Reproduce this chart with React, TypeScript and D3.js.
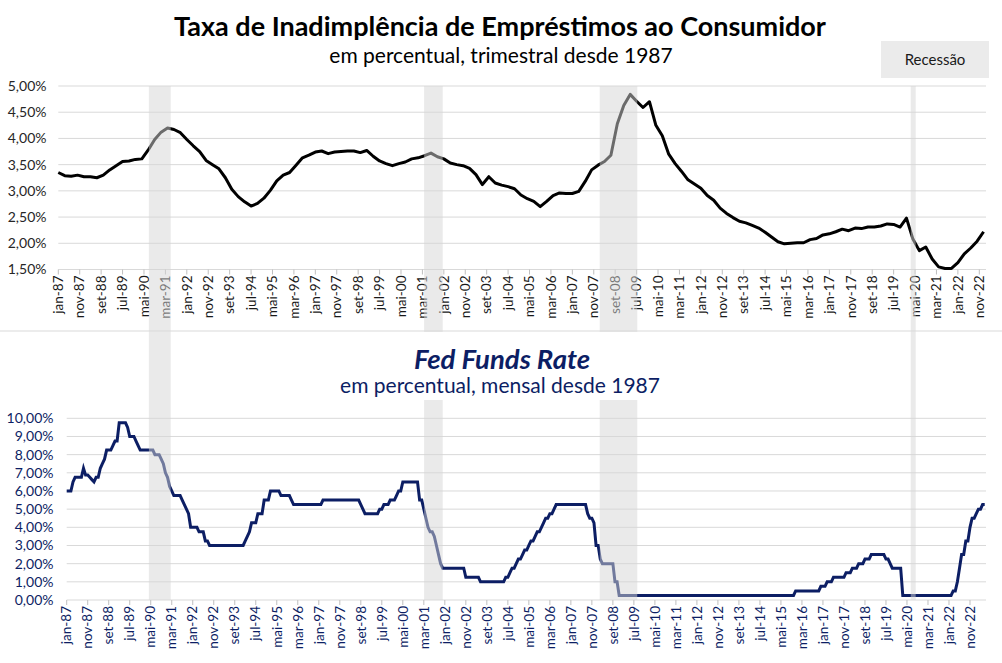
import React from 'react';
import * as d3 from 'd3';

const PT_MONTHS = ['jan', 'fev', 'mar', 'abr', 'mai', 'jun', 'jul', 'ago', 'set', 'out', 'nov', 'dez'];

const tickLabels = [
  'jan-87', 'nov-87', 'set-88', 'jul-89', 'mai-90', 'mar-91', 'jan-92', 'nov-92', 'set-93', 'jul-94',
  'mai-95', 'mar-96', 'jan-97', 'nov-97', 'set-98', 'jul-99', 'mai-00', 'mar-01', 'jan-02', 'nov-02',
  'set-03', 'jul-04', 'mai-05', 'mar-06', 'jan-07', 'nov-07', 'set-08', 'jul-09', 'mai-10', 'mar-11',
  'jan-12', 'nov-12', 'set-13', 'jul-14', 'mai-15', 'mar-16', 'jan-17', 'nov-17', 'set-18', 'jul-19',
  'mai-20', 'mar-21', 'jan-22', 'nov-22',
];

const topYTicks = [1.5, 2, 2.5, 3, 3.5, 4, 4.5, 5];
const bottomYTicks = [0, 1, 2, 3, 4, 5, 6, 7, 8, 9, 10];

// Consumer loan delinquency rate, quarterly from 1987 Q1 (one row per year)
const delinquencyStartYear = 1987;
const delinquency: number[][] = [
  [3.35, 3.29, 3.28, 3.30],
  [3.27, 3.27, 3.25, 3.30],
  [3.40, 3.48, 3.56, 3.57],
  [3.60, 3.61, 3.78, 3.98],
  [4.12, 4.20, 4.17, 4.11],
  [3.98, 3.86, 3.75, 3.58],
  [3.50, 3.42, 3.25, 3.03],
  [2.89, 2.79, 2.71, 2.76],
  [2.86, 3.01, 3.19, 3.30],
  [3.35, 3.49, 3.63, 3.68],
  [3.74, 3.76, 3.71, 3.74],
  [3.75, 3.76, 3.76, 3.73],
  [3.77, 3.66, 3.57, 3.52],
  [3.48, 3.52, 3.55, 3.61],
  [3.63, 3.67, 3.72, 3.65],
  [3.61, 3.53, 3.50, 3.48],
  [3.43, 3.31, 3.12, 3.27],
  [3.15, 3.11, 3.08, 3.04],
  [2.92, 2.85, 2.80, 2.70],
  [2.80, 2.91, 2.96, 2.95],
  [2.95, 2.99, 3.18, 3.40],
  [3.49, 3.56, 3.68, 4.28],
  [4.63, 4.84, 4.71, 4.59],
  [4.70, 4.25, 4.05, 3.70],
  [3.52, 3.37, 3.21, 3.13],
  [3.05, 2.91, 2.82, 2.67],
  [2.57, 2.49, 2.42, 2.39],
  [2.34, 2.29, 2.21, 2.12],
  [2.03, 1.99, 2.00, 2.01],
  [2.01, 2.07, 2.09, 2.16],
  [2.18, 2.22, 2.27, 2.24],
  [2.29, 2.28, 2.31, 2.31],
  [2.33, 2.37, 2.36, 2.31],
  [2.48, 2.08, 1.86, 1.93],
  [1.70, 1.55, 1.52, 1.52],
  [1.63, 1.80, 1.91, 2.04],
  [2.22],
];

// Fed Funds target rate, monthly from Jan 1987 (one row per year)
const fedFundsStartYear = 1987;
const fedFunds: number[][] = [
  [6.0, 6.0, 6.0, 6.5, 6.75, 6.75, 6.75, 6.75, 7.25, 6.875, 6.875, 6.75],
  [6.625, 6.5, 6.75, 6.75, 7.25, 7.5, 7.75, 8.25, 8.25, 8.25, 8.5, 8.75],
  [8.75, 9.75, 9.75, 9.75, 9.75, 9.5, 9.0, 9.0, 9.0, 8.75, 8.5, 8.25],
  [8.25, 8.25, 8.25, 8.25, 8.25, 8.25, 8.0, 8.0, 8.0, 7.75, 7.5, 7.0],
  [6.75, 6.25, 6.0, 5.75, 5.75, 5.75, 5.75, 5.5, 5.25, 5.0, 4.75, 4.0],
  [4.0, 4.0, 4.0, 3.75, 3.75, 3.75, 3.25, 3.25, 3.0, 3.0, 3.0, 3.0],
  [3.0, 3.0, 3.0, 3.0, 3.0, 3.0, 3.0, 3.0, 3.0, 3.0, 3.0, 3.0],
  [3.0, 3.25, 3.5, 3.75, 4.25, 4.25, 4.25, 4.75, 4.75, 4.75, 5.5, 5.5],
  [5.5, 6.0, 6.0, 6.0, 6.0, 6.0, 5.75, 5.75, 5.75, 5.75, 5.75, 5.5],
  [5.25, 5.25, 5.25, 5.25, 5.25, 5.25, 5.25, 5.25, 5.25, 5.25, 5.25, 5.25],
  [5.25, 5.25, 5.5, 5.5, 5.5, 5.5, 5.5, 5.5, 5.5, 5.5, 5.5, 5.5],
  [5.5, 5.5, 5.5, 5.5, 5.5, 5.5, 5.5, 5.5, 5.25, 5.0, 4.75, 4.75],
  [4.75, 4.75, 4.75, 4.75, 4.75, 5.0, 5.0, 5.25, 5.25, 5.25, 5.5, 5.5],
  [5.5, 5.75, 6.0, 6.0, 6.5, 6.5, 6.5, 6.5, 6.5, 6.5, 6.5, 6.5],
  [5.5, 5.5, 5.0, 4.5, 4.0, 3.75, 3.75, 3.5, 3.0, 2.5, 2.0, 1.75],
  [1.75, 1.75, 1.75, 1.75, 1.75, 1.75, 1.75, 1.75, 1.75, 1.75, 1.25, 1.25],
  [1.25, 1.25, 1.25, 1.25, 1.25, 1.0, 1.0, 1.0, 1.0, 1.0, 1.0, 1.0],
  [1.0, 1.0, 1.0, 1.0, 1.0, 1.25, 1.25, 1.5, 1.75, 1.75, 2.0, 2.25],
  [2.25, 2.5, 2.75, 2.75, 3.0, 3.25, 3.25, 3.5, 3.75, 3.75, 4.0, 4.25],
  [4.5, 4.5, 4.75, 4.75, 5.0, 5.25, 5.25, 5.25, 5.25, 5.25, 5.25, 5.25],
  [5.25, 5.25, 5.25, 5.25, 5.25, 5.25, 5.25, 5.25, 4.75, 4.5, 4.5, 4.25],
  [3.0, 3.0, 2.25, 2.0, 2.0, 2.0, 2.0, 2.0, 2.0, 1.0, 1.0, 0.25],
  [0.25, 0.25, 0.25, 0.25, 0.25, 0.25, 0.25, 0.25, 0.25, 0.25, 0.25, 0.25],
  [0.25, 0.25, 0.25, 0.25, 0.25, 0.25, 0.25, 0.25, 0.25, 0.25, 0.25, 0.25],
  [0.25, 0.25, 0.25, 0.25, 0.25, 0.25, 0.25, 0.25, 0.25, 0.25, 0.25, 0.25],
  [0.25, 0.25, 0.25, 0.25, 0.25, 0.25, 0.25, 0.25, 0.25, 0.25, 0.25, 0.25],
  [0.25, 0.25, 0.25, 0.25, 0.25, 0.25, 0.25, 0.25, 0.25, 0.25, 0.25, 0.25],
  [0.25, 0.25, 0.25, 0.25, 0.25, 0.25, 0.25, 0.25, 0.25, 0.25, 0.25, 0.25],
  [0.25, 0.25, 0.25, 0.25, 0.25, 0.25, 0.25, 0.25, 0.25, 0.25, 0.25, 0.5],
  [0.5, 0.5, 0.5, 0.5, 0.5, 0.5, 0.5, 0.5, 0.5, 0.5, 0.5, 0.75],
  [0.75, 0.75, 1.0, 1.0, 1.0, 1.25, 1.25, 1.25, 1.25, 1.25, 1.25, 1.5],
  [1.5, 1.5, 1.75, 1.75, 1.75, 2.0, 2.0, 2.0, 2.25, 2.25, 2.25, 2.5],
  [2.5, 2.5, 2.5, 2.5, 2.5, 2.5, 2.25, 2.25, 2.0, 1.75, 1.75, 1.75],
  [1.75, 1.75, 0.25, 0.25, 0.25, 0.25, 0.25, 0.25, 0.25, 0.25, 0.25, 0.25],
  [0.25, 0.25, 0.25, 0.25, 0.25, 0.25, 0.25, 0.25, 0.25, 0.25, 0.25, 0.25],
  [0.25, 0.25, 0.5, 0.5, 1.0, 1.75, 2.5, 2.5, 3.25, 3.25, 4.0, 4.5],
  [4.5, 4.75, 5.0, 5.0, 5.25, 5.25],
];

// Recession bands as drawn in the picture (start, end)
const recessions: [string, string][] = [
  ['1990-07-10', '1991-05-15'],
  ['2001-03-25', '2001-12-15'],
  ['2008-01-25', '2009-07-10'],
  ['2020-03-01', '2020-05-10'],
];

const NAVY = '#0c1e64';
const GRID = '#d9d9d9';
const FONT = 'Lato, "Open Sans", sans-serif';

const labelToMonth = (s: string) => {
  const [mon, yy] = s.split('-');
  const y = +yy < 50 ? 2000 + +yy : 1900 + +yy;
  return (y - 1987) * 12 + PT_MONTHS.indexOf(mon);
};
const dateToMonth = (s: string) => {
  const [y, m, d] = s.split('-').map(Number);
  return (y - 1987) * 12 + (m - 1) + (d - 1) / 30;
};
const pct = (v: number) => v.toFixed(2).replace('.', ',') + '%';

const topSeries = delinquency.flatMap((row, yi) =>
  row.map((v, q) => ({ m: (delinquencyStartYear - 1987 + yi) * 12 + q * 3, v }))
);
const botSeries = fedFunds.flatMap((row, yi) =>
  row.map((v, mi) => ({ m: (fedFundsStartYear - 1987 + yi) * 12 + mi, v }))
);

export default function App() {
  const W = 1002;
  const H = 663;
  const plotRight = 986;

  const topX = d3.scaleLinear().domain([0, 430]).range([58.3, 979.3]);
  const topY = d3.scaleLinear().domain([1.5, 5]).range([269.5, 86]);
  const botX = d3.scaleLinear().domain([0, 430]).range([66.7, 970]);
  const botY = d3.scaleLinear().domain([0, 10]).range([600, 418.3]);

  const topLine = d3
    .line<{ m: number; v: number }>()
    .x((d) => topX(d.m))
    .y((d) => topY(d.v))
    .curve(d3.curveLinear);
  const botLine = d3
    .line<{ m: number; v: number }>()
    .x((d) => botX(d.m))
    .y((d) => botY(d.v))
    .curve(d3.curveLinear);

  const sepY = 331;

  return (
    <div style={{ position: 'absolute', left: 0, top: 0 }}>
      <svg width={W} height={H} style={{ display: 'block', fontFamily: FONT }}>
        <rect x={0} y={0} width={W} height={H} fill="#fff" />

        {/* ---------- TOP CHART ---------- */}
        {topYTicks.map((t) => (
          <g key={'tg' + t}>
            <line x1={topX(0)} x2={plotRight} y1={topY(t)} y2={topY(t)} stroke={GRID} strokeWidth={1} />
            <text x={46.5} y={topY(t)} dy="0.35em" textAnchor="end" fontSize={14} fill="#262626">
              {pct(t)}
            </text>
          </g>
        ))}
        {tickLabels.map((l) => {
          const x = topX(labelToMonth(l));
          return (
            <g key={'tx' + l}>
              <line x1={x} x2={x} y1={topY(1.5)} y2={topY(1.5) + 5} stroke="#bfbfbf" strokeWidth={1} />
              <text
                transform={`translate(${x},${topY(1.5) + 6}) rotate(-90)`}
                textAnchor="end"
                dy="0.35em"
                fontSize={13.5}
                fill="#1a1a1a"
              >
                {l}
              </text>
            </g>
          );
        })}
        <path d={topLine(topSeries) || ''} fill="none" stroke="#000" strokeWidth={3} strokeLinejoin="round" />

        {/* ---------- BOTTOM CHART ---------- */}
        {bottomYTicks.map((t) => (
          <g key={'bg' + t}>
            <line x1={botX(0)} x2={plotRight} y1={botY(t)} y2={botY(t)} stroke={GRID} strokeWidth={1} />
            <text x={53.5} y={botY(t)} dy="0.35em" textAnchor="end" fontSize={14} fill={NAVY}>
              {pct(t)}
            </text>
          </g>
        ))}
        {tickLabels.map((l) => {
          const x = botX(labelToMonth(l));
          return (
            <g key={'bx' + l}>
              <line x1={x} x2={x} y1={botY(0)} y2={botY(0) + 5} stroke="#bfbfbf" strokeWidth={1} />
              <text
                transform={`translate(${x},${botY(0) + 6}) rotate(-90)`}
                textAnchor="end"
                dy="0.35em"
                fontSize={13.5}
                fill={NAVY}
              >
                {l}
              </text>
            </g>
          );
        })}
        <path d={botLine(botSeries) || ''} fill="none" stroke={NAVY} strokeWidth={3} strokeLinejoin="miter" />

        {/* ---------- RECESSION BANDS (overlay) ---------- */}
        {recessions.map(([s, e]) => {
          const x0 = topX(dateToMonth(s));
          const x1 = topX(dateToMonth(e));
          return (
            <g key={'r' + s}>
              <rect x={x0} y={topY(5)} width={x1 - x0} height={sepY - topY(5)} fill="#d6d6d6" opacity={0.5} />
              <rect x={x0} y={sepY} width={x1 - x0} height={botY(0) - sepY} fill="#d6d6d6" opacity={0.5} />
            </g>
          );
        })}

        {/* separator */}
        <line x1={0} x2={W} y1={sepY} y2={sepY} stroke={GRID} strokeWidth={1} />

        {/* bottom title box */}
        <rect x={300} y={sepY + 1} width={400} height={400 - sepY - 1} fill="#fff" />

        {/* titles */}
        <text x={500} y={36} textAnchor="middle" fontSize={27} fontWeight={700} fill="#000">
          Taxa de Inadimplência de Empréstimos ao Consumidor
        </text>
        <text x={501} y={63} textAnchor="middle" fontSize={21} fill="#000">
          em percentual, trimestral desde 1987
        </text>
        <text x={502} y={369} textAnchor="middle" fontSize={27.5} fontWeight={700} fontStyle="italic" fill={NAVY}>
          Fed Funds Rate
        </text>
        <text x={500} y={393} textAnchor="middle" fontSize={21} fill={NAVY}>
          em percentual, mensal desde 1987
        </text>

        {/* legend */}
        <rect x={881} y={41} width={108} height={37} fill="#ebebeb" />
        <text x={935} y={65} textAnchor="middle" fontSize={15} fill="#1a1a1a">
          Recessão
        </text>
      </svg>
    </div>
  );
}
